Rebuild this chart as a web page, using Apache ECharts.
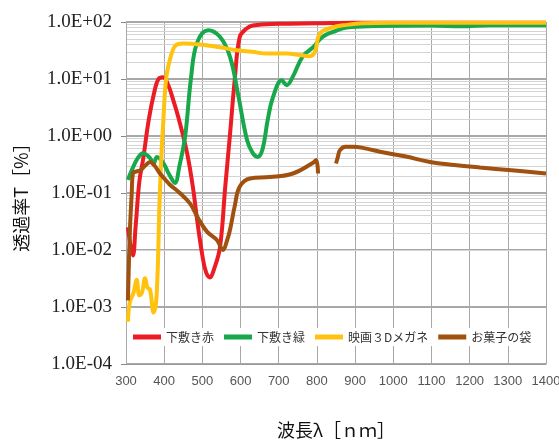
<!DOCTYPE html>
<html>
<head>
<meta charset="utf-8">
<script src="https://cdn.jsdelivr.net/npm/echarts@6/dist/echarts.min.js"></script>
<style>
html, body { margin: 0; padding: 0; background: #fff; }
#chartmain { width: 559px; height: 447px; }
</style>
</head>
<body>
<div id="chartmain"></div>
<script>
// 凡例名
var names = ['下敷き赤', '下敷き緑', '映画３Dメガネ', 'お菓子の袋'];
var colors = ['#ec1c24', '#17a84b', '#ffc20e', '#a0500f'];

// 下敷き赤
var redNm = [305, 318, 325, 335, 345, 360, 375, 385, 397, 410, 425, 440, 460, 475, 486, 500, 510, 520, 530, 546, 560, 572, 585, 598, 615, 632, 700, 800, 900, 1400];
var redT = [0.025, 0.008, 0.025, 0.16, 0.4, 2.0, 6.3, 10, 10.7, 8, 4, 1.8, 0.5, 0.13, 0.035, 0.008, 0.004, 0.0033, 0.0045, 0.011, 0.13, 1.0, 10, 55, 76, 87, 93, 95, 97, 97];

// 下敷き緑
var greenNm = [305, 315, 330, 345, 363, 372, 381, 397, 415, 428, 440, 455, 470, 486, 515, 546, 572, 593, 617, 632, 645, 658, 671, 685, 708, 721, 737, 763, 790, 815, 850, 878, 950, 1100, 1180, 1250, 1400];
var greenT = [0.17, 0.25, 0.4, 0.5, 0.41, 0.32, 0.43, 0.34, 0.2, 0.15, 0.3, 1.0, 10, 43, 72, 55, 25, 5.6, 0.85, 0.5, 0.43, 0.6, 1.9, 4.8, 9.5, 7.8, 11, 25, 36, 55, 70, 80, 85, 87, 84, 88, 88];

// 映画３Dメガネ
var yellowNm = [305, 310, 320, 328, 335, 342, 350, 356, 363, 372, 380, 388, 393, 397, 405, 415, 425, 433, 450, 500, 546, 590, 630, 669, 721, 760, 782, 795, 808, 840, 878, 920, 1000, 1400];
var yellowT = [0.00055, 0.0012, 0.0018, 0.003, 0.0016, 0.0018, 0.0032, 0.0022, 0.002, 0.0008, 0.0015, 0.075, 0.5, 1.5, 10, 22, 35, 40, 42, 40, 36, 32, 30, 28, 28, 26, 25, 30, 63, 80, 89, 95, 97, 97];

// お菓子の袋
var brownNm = [305, 310, 315, 318, 328, 337, 350, 363, 375, 389, 400, 415, 441, 468, 490, 512, 538, 554, 565, 572, 585, 598, 625, 677, 737, 790, 798, 803, 825, 850, 855, 860, 875, 894, 930, 965, 1030, 1096, 1160, 1227, 1310, 1400];
var brownT = [0.0013, 0.02, 0.1, 0.22, 0.24, 0.25, 0.3, 0.35, 0.3, 0.22, 0.18, 0.14, 0.1, 0.065, 0.035, 0.021, 0.015, 0.01, 0.015, 0.022, 0.06, 0.13, 0.18, 0.19, 0.22, 0.34, 0.38, 0.22, null, 0.33, 0.43, 0.56, 0.65, 0.65, 0.6, 0.53, 0.44, 0.35, 0.31, 0.28, 0.25, 0.22];

// 目盛
var xMin = 300, xMax = 1400, xStep = 100;
var yMin = 1e-4, yMax = 100;

function pairs(xs, ys) {
    return xs.map(function (x, i) { return [x, ys[i]]; });
}

// 対数の補助線 (2〜9)
var minorLines = [];
for (var d = -4; d < 2; d++) {
    for (var k = 2; k <= 9; k++) {
        minorLines.push({ yAxis: k * Math.pow(10, d) });
    }
}

var chart = echarts.init(document.getElementById('chartmain'));

var lines = [
    pairs(redNm, redT),
    pairs(greenNm, greenT),
    pairs(yellowNm, yellowT),
    pairs(brownNm, brownT)
];

var series = [{
    name: 'minor',
    type: 'line',
    data: [],
    silent: true,
    z: 0,
    markLine: {
        silent: true,
        symbol: 'none',
        animation: false,
        z: 0,
        label: { show: false },
        emphasis: { disabled: true },
        lineStyle: { color: '#d4d4d4', width: 1, type: 'solid' },
        data: minorLines
    }
}];

lines.forEach(function (d, i) {
    series.push({
        name: names[i],
        type: 'line',
        data: d,
        z: 5,
        showSymbol: false,
        smooth: 0.4,
        connectNulls: false,
        lineStyle: { color: colors[i], width: 4 },
        itemStyle: { color: colors[i] }
    });
});

option = {
    animation: false,
    backgroundColor: '#fff',
    grid: {
        left: 126,
        right: 13,
        top: 22,
        bottom: 83,
        containLabel: false,
        outerBoundsMode: 'none'
    },
    legend: {
        data: names.map(function (n, i) {
            return { name: n, icon: 'rect', itemStyle: { color: colors[i] } };
        }),
        left: 129,
        top: 328,
        z: 10,
        itemWidth: 28,
        itemHeight: 5,
        itemGap: 10,
        padding: [3, 4],
        backgroundColor: '#fff',
        textStyle: {
            color: '#333',
            fontSize: 12,
            fontFamily: 'Noto Sans CJK JP'
        }
    },
    xAxis: {
        type: 'value',
        min: xMin,
        max: xMax,
        interval: xStep,
        name: '波長λ［ｎｍ］',
        nameLocation: 'middle',
        nameGap: 57,
        nameTextStyle: {
            color: '#111',
            fontSize: 18,
            fontFamily: 'Noto Sans CJK JP'
        },
        axisLine: { lineStyle: { color: '#999' } },
        axisTick: { show: false },
        axisLabel: {
            color: '#555',
            fontSize: 13,
            fontFamily: 'Liberation Sans',
            margin: 11,
            showMaxLabel: true,
            formatter: function (v) { return String(v); }
        },
        splitLine: { show: true, lineStyle: { color: '#a8a8a8', width: 1 } }
    },
    yAxis: {
        type: 'log',
        logBase: 10,
        min: yMin,
        max: yMax,
        name: '透過率T［%］',
        nameLocation: 'middle',
        nameRotate: 90,
        nameGap: 96,
        nameTextStyle: {
            color: '#111',
            fontSize: 18,
            fontFamily: 'Noto Sans CJK JP'
        },
        axisLine: { show: true, lineStyle: { color: '#aaa' } },
        axisTick: { show: true, length: 5, lineStyle: { color: '#888' } },
        axisLabel: {
            color: '#222',
            fontSize: 19,
            fontFamily: 'Liberation Serif',
            margin: 14,
            formatter: function (v) {
                var e = Math.round(Math.log10(v));
                var s = Math.abs(e) < 10 ? '0' + Math.abs(e) : '' + Math.abs(e);
                return '1.0E' + (e < 0 ? '-' : '+') + s;
            }
        },
        splitLine: { show: true, lineStyle: { color: '#a8a8a8', width: 2 } }
    },
    series: series
};

chart.setOption(option);
</script>
</body>
</html>
